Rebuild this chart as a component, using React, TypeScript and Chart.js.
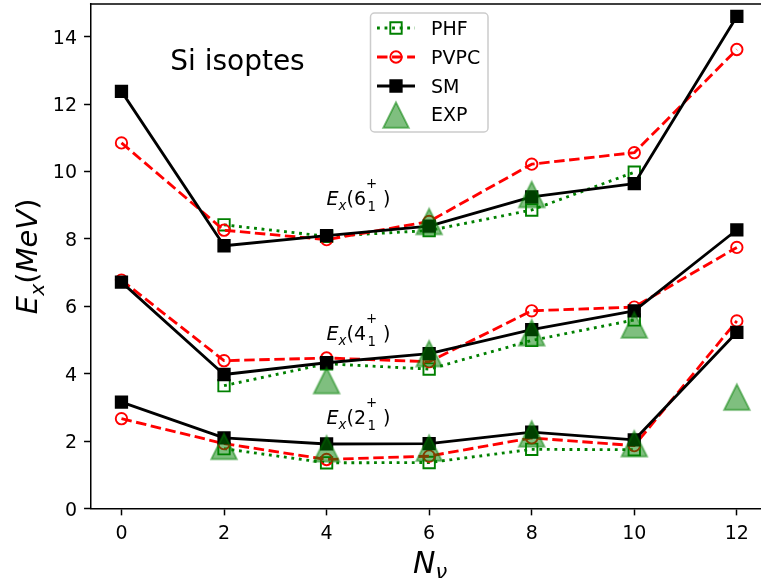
import React, { useEffect, useRef } from "react";
import { Chart, registerables } from "chart.js";
Chart.register(...registerables);

// ---------------- data ----------------
const nuAll = [0, 2, 4, 6, 8, 10, 12];
const nuPhf = [2, 4, 6, 8, 10];
const nuExp2 = [2, 4, 6, 8, 10];
const nuExp4 = [4, 6, 8, 10, 12];
const nuExp6 = [6, 8];

const phf2 = [1.78, 1.36, 1.37, 1.76, 1.75];
const phf4 = [3.65, 4.3, 4.14, 4.99, 5.6];
const phf6 = [8.42, 8.08, 8.25, 8.86, 9.98];

const pvpc2 = [2.67, 1.93, 1.46, 1.56, 2.1, 1.87, 5.57];
const pvpc4 = [6.78, 4.39, 4.47, 4.36, 5.87, 5.98, 7.75];
const pvpc6 = [10.85, 8.26, 7.98, 8.52, 10.22, 10.56, 13.62];

const sm2 = [3.16, 2.1, 1.92, 1.93, 2.27, 2.04, 5.23];
const sm4 = [6.72, 3.98, 4.33, 4.6, 5.31, 5.87, 8.27];
const sm6 = [12.38, 7.8, 8.1, 8.38, 9.25, 9.64, 14.6];

const exp2 = [1.85, 1.78, 1.8, 2.22, 1.93];
const exp4 = [3.8, 4.6, 5.22, 5.45, 3.31];
const exp6 = [8.52, 9.32];

const xTicks = [0, 2, 4, 6, 8, 10, 12];
const yTicks = [0, 2, 4, 6, 8, 10, 12, 14];
const seriesNames = ["PHF", "PVPC", "SM", "EXP"];
const stateSpins = ["2", "4", "6"];
const stateLabelX = [4, 4, 4];
const stateLabelY = [2.5, 5, 9];
const titleText = "Si isoptes";
const titleX = 0.95;
const titleY = 13;

// ---------------- styles ----------------
const FONT = "DejaVu Sans";
const GREEN = "#008000";
const RED = "#ff0000";
const BLACK = "#000000";
const EXP_COLOR = "rgba(0,128,0,0.5)";
const LW = 2.85;
const MEW = 1.9;
const SQ_R = 8.06; // rect side = 1.414*r = 11.4
const CIRC_R = 5.7;

function makeTriangle(): HTMLCanvasElement {
  const c = document.createElement("canvas");
  c.width = 32;
  c.height = 32;
  const g = c.getContext("2d")!;
  const h = 12.75;
  g.beginPath();
  g.moveTo(16, 16 - h);
  g.lineTo(16 - h, 16 + h);
  g.lineTo(16 + h, 16 + h);
  g.closePath();
  g.fillStyle = EXP_COLOR;
  g.fill();
  g.strokeStyle = EXP_COLOR;
  g.lineWidth = MEW;
  g.lineJoin = "miter";
  g.stroke();
  return c;
}

function pts(xs: number[], ys: number[]) {
  return xs.map((x, i) => ({ x, y: ys[i] }));
}

type Piece = { t: string; it?: boolean; s?: number; dy?: number; dx?: number; adv?: boolean; gap?: number };

function piecesWidth(ctx: CanvasRenderingContext2D, size: number, pieces: Piece[]) {
  let w = 0;
  for (const p of pieces) {
    const fs = size * (p.s ?? 1);
    ctx.font = `${p.it ? "italic " : ""}${fs}px ${FONT}`;
    if (p.adv !== false) w += ctx.measureText(p.t).width + (p.gap || 0);
  }
  return w;
}

function drawPieces(ctx: CanvasRenderingContext2D, x0: number, y0: number, size: number, pieces: Piece[]) {
  let x = x0;
  for (const p of pieces) {
    const fs = size * (p.s ?? 1);
    ctx.font = `${p.it ? "italic " : ""}${fs}px ${FONT}`;
    ctx.fillText(p.t, x + (p.dx || 0), y0 + (p.dy || 0));
    if (p.adv !== false) x += ctx.measureText(p.t).width + (p.gap || 0);
  }
}

function drawSquare(ctx: CanvasRenderingContext2D, x: number, y: number, fill: string | null, stroke: string) {
  const s = 11.4;
  ctx.beginPath();
  ctx.rect(x - s / 2, y - s / 2, s, s);
  if (fill) {
    ctx.fillStyle = fill;
    ctx.fill();
  }
  ctx.setLineDash([]);
  ctx.lineWidth = MEW;
  ctx.strokeStyle = stroke;
  ctx.stroke();
}

export default function App() {
  const ref = useRef<HTMLCanvasElement>(null);

  useEffect(() => {
    const canvas = ref.current!;
    const tri = makeTriangle();

    const phfStyle: any = {
      borderColor: GREEN,
      borderWidth: LW,
      borderDash: [2.85, 4.7],
      borderCapStyle: "butt",
      borderJoinStyle: "round",
      pointStyle: "rect",
      pointRadius: SQ_R,
      pointBorderWidth: MEW,
      pointBorderColor: GREEN,
      pointBackgroundColor: "rgba(0,0,0,0)",
      showLine: true,
      fill: false,
      tension: 0,
      order: 3,
      clip: false,
    };
    const pvpcStyle: any = {
      borderColor: RED,
      borderWidth: LW,
      borderDash: [10.5, 4.56],
      borderCapStyle: "butt",
      borderJoinStyle: "round",
      pointStyle: "circle",
      pointRadius: CIRC_R,
      pointBorderWidth: MEW,
      pointBorderColor: RED,
      pointBackgroundColor: "rgba(0,0,0,0)",
      showLine: true,
      fill: false,
      tension: 0,
      order: 2,
      clip: false,
    };
    const smStyle: any = {
      borderColor: BLACK,
      borderWidth: LW,
      borderCapStyle: "square",
      borderJoinStyle: "round",
      pointStyle: "rect",
      pointRadius: SQ_R,
      pointBorderWidth: MEW,
      pointBorderColor: BLACK,
      pointBackgroundColor: BLACK,
      showLine: true,
      fill: false,
      tension: 0,
      order: 1,
      clip: false,
    };
    const expStyle: any = {
      showLine: false,
      pointStyle: tri,
      pointRadius: 13,
      borderColor: EXP_COLOR,
      backgroundColor: EXP_COLOR,
      order: 0,
      clip: false,
    };

    const datasets: any[] = [
      { label: seriesNames[0], data: pts(nuPhf, phf2), ...phfStyle },
      { label: seriesNames[0], data: pts(nuPhf, phf4), ...phfStyle },
      { label: seriesNames[0], data: pts(nuPhf, phf6), ...phfStyle },
      { label: seriesNames[1], data: pts(nuAll, pvpc2), ...pvpcStyle },
      { label: seriesNames[1], data: pts(nuAll, pvpc4), ...pvpcStyle },
      { label: seriesNames[1], data: pts(nuAll, pvpc6), ...pvpcStyle },
      { label: seriesNames[2], data: pts(nuAll, sm2), ...smStyle },
      { label: seriesNames[2], data: pts(nuAll, sm4), ...smStyle },
      { label: seriesNames[2], data: pts(nuAll, sm6), ...smStyle },
      { label: seriesNames[3], data: pts(nuExp2, exp2), ...expStyle },
      { label: seriesNames[3], data: pts(nuExp4, exp4), ...expStyle },
      { label: seriesNames[3], data: pts(nuExp6, exp6), ...expStyle },
    ];

    const overlay = {
      id: "overlay",
      afterDraw(chart: any) {
        const ctx: CanvasRenderingContext2D = chart.ctx;
        const ca = chart.chartArea;
        const xs = chart.scales.x;
        const ys = chart.scales.y;
        ctx.save();
        // top and right spines
        ctx.strokeStyle = BLACK;
        ctx.lineWidth = 1.5;
        ctx.setLineDash([]);
        ctx.beginPath();
        ctx.moveTo(ca.left - 0.75, ca.top);
        ctx.lineTo(ca.right, ca.top);
        ctx.lineTo(ca.right, ca.bottom);
        ctx.stroke();

        ctx.fillStyle = BLACK;
        ctx.textBaseline = "alphabetic";

        // tick labels
        ctx.font = `19px ${FONT}`;
        ctx.textAlign = "right";
        yTicks.forEach((v) => ctx.fillText(String(v), 77, ys.getPixelForValue(v) + 6.9));
        ctx.textAlign = "center";
        xTicks.forEach((v) => ctx.fillText(String(v), xs.getPixelForValue(v), 538.5));
        ctx.textAlign = "left";

        // title text
        ctx.font = `28px ${FONT}`;
        ctx.fillText(titleText, xs.getPixelForValue(titleX), ys.getPixelForValue(titleY));

        // state labels E_x(J_1^+)
        stateSpins.forEach((j, i) => {
          const px = xs.getPixelForValue(stateLabelX[i]);
          const py = ys.getPixelForValue(stateLabelY[i]);
          drawPieces(ctx, px, py, 19, [
            { t: "E", it: true },
            { t: "x", it: true, s: 0.7, dy: 5 },
            { t: "(" },
            { t: j },
            { t: "1", s: 0.7, dy: 6, adv: false, dx: 1.5 },
            { t: "+", s: 0.7, dy: -17, gap: 6 },
            { t: ")" },
          ]);
        });

        // x axis label N_nu
        const xl: Piece[] = [
          { t: "N", it: true },
          { t: "\u03bd", it: true, s: 0.7, dy: 6 },
        ];
        const xw = piecesWidth(ctx, 30, xl);
        drawPieces(ctx, (ca.left + ca.right) / 2 - xw / 2 + 1, 572.5, 30, xl);

        // y axis label E_x(MeV)
        const yl: Piece[] = [
          { t: "E", it: true },
          { t: "x", it: true, s: 0.7, dy: 7 },
          { t: "(" },
          { t: "MeV", it: true },
          { t: ")" },
        ];
        const yw = piecesWidth(ctx, 29, yl);
        ctx.save();
        ctx.translate(36.5, (ca.top + ca.bottom) / 2);
        ctx.rotate(-Math.PI / 2);
        drawPieces(ctx, -yw / 2, 0, 29, yl);
        ctx.restore();

        // legend
        const lx = 370.5, ly = 13, lw = 117.5, lh = 119;
        ctx.beginPath();
        (ctx as any).roundRect(lx, ly, lw, lh, 4);
        ctx.fillStyle = "rgba(255,255,255,0.8)";
        ctx.fill();
        ctx.strokeStyle = "#cccccc";
        ctx.lineWidth = 1.5;
        ctx.stroke();

        const rowY = [28, 57, 86, 115];
        const baseY = [35, 64, 92.7, 121.3];
        const h0 = 377, h1 = 415, hc = 396;
        // PHF
        ctx.beginPath();
        ctx.setLineDash([2.85, 4.7]);
        ctx.lineCap = "butt";
        ctx.strokeStyle = GREEN;
        ctx.lineWidth = LW;
        ctx.moveTo(h0, rowY[0]);
        ctx.lineTo(h1, rowY[0]);
        ctx.stroke();
        drawSquare(ctx, hc, rowY[0], null, GREEN);
        // PVPC
        ctx.beginPath();
        ctx.setLineDash([10.5, 4.56]);
        ctx.strokeStyle = RED;
        ctx.lineWidth = LW;
        ctx.moveTo(h0, rowY[1]);
        ctx.lineTo(h1, rowY[1]);
        ctx.stroke();
        ctx.setLineDash([]);
        ctx.beginPath();
        ctx.arc(hc, rowY[1], CIRC_R, 0, Math.PI * 2);
        ctx.lineWidth = MEW;
        ctx.stroke();
        // SM
        ctx.beginPath();
        ctx.strokeStyle = BLACK;
        ctx.lineWidth = LW;
        ctx.moveTo(h0, rowY[2]);
        ctx.lineTo(h1, rowY[2]);
        ctx.stroke();
        drawSquare(ctx, hc, rowY[2], BLACK, BLACK);
        // EXP
        ctx.drawImage(tri, hc - tri.width / 2, rowY[3] - tri.height / 2);

        ctx.fillStyle = BLACK;
        ctx.font = `19px ${FONT}`;
        seriesNames.forEach((n, i) => ctx.fillText(n, 431, baseY[i]));

        ctx.restore();
      },
    };

    Chart.defaults.font.family = FONT;

    const chart = new Chart(canvas, {
      type: "line",
      data: { datasets },
      options: {
        animation: false,
        responsive: false,
        events: [],
        layout: { autoPadding: false, padding: { left: 0, top: 4, right: 775 - 767.6, bottom: 0 } },
        plugins: { legend: { display: false }, tooltip: { enabled: false } },
        scales: {
          x: {
            type: "linear",
            min: -0.6,
            max: 12.6,
            grid: { display: true, drawOnChartArea: false, drawTicks: true, tickLength: 6.65, tickWidth: 1.5, tickColor: BLACK },
            border: { display: true, color: BLACK, width: 1.5 },
            ticks: { display: false },
            afterBuildTicks: (s: any) => {
              s.ticks = xTicks.map((v) => ({ value: v }));
            },
            afterFit: (s: any) => {
              s.height = 69.3;
              s.paddingLeft = 0;
              s.paddingRight = 0;
            },
          },
          y: {
            type: "linear",
            min: 0,
            max: 14.97,
            grid: { display: true, drawOnChartArea: false, drawTicks: true, tickLength: 6.65, tickWidth: 1.5, tickColor: BLACK },
            border: { display: true, color: BLACK, width: 1.5 },
            ticks: { display: false },
            afterBuildTicks: (s: any) => {
              s.ticks = yTicks.map((v) => ({ value: v }));
            },
            afterFit: (s: any) => {
              s.width = 90.7;
              s.paddingTop = 0;
              s.paddingBottom = 0;
            },
          },
        },
      } as any,
      plugins: [overlay],
    });
    return () => chart.destroy();
  }, []);

  return (
    <div style={{ position: "absolute", left: 0, top: 0, width: 761, height: 578, overflow: "hidden", background: "#fff" }}>
      <canvas ref={ref} width={775} height={578} style={{ display: "block", width: 775, height: 578 }} />
    </div>
  );
}
